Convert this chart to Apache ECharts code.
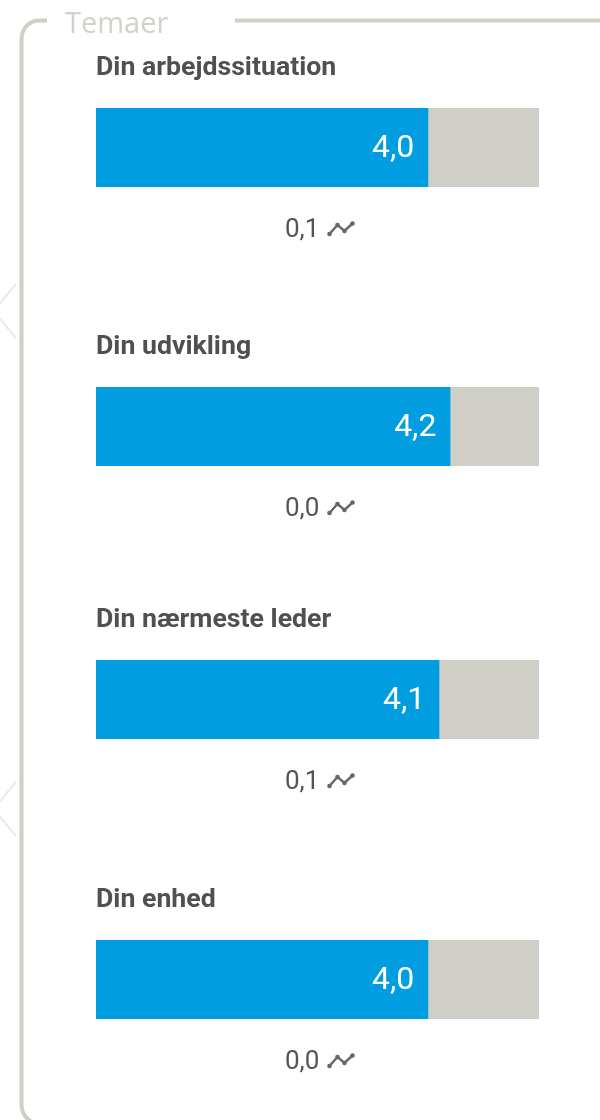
<!DOCTYPE html>
<html>
<head>
<meta charset="utf-8">
<style>
  html, body { margin: 0; padding: 0; background: #fff; }
  #chart { width: 600px; height: 1120px; }
</style>
<script src="https://cdn.jsdelivr.net/npm/echarts@6/dist/echarts.min.js"></script>
</head>
<body>
<div id="chart"></div>
<script>
var panelTitle = 'Temaer';
var themes = ['Din arbejdssituation', 'Din udvikling', 'Din nærmeste leder', 'Din enhed'];
var scores = [4.0, 4.2, 4.1, 4.0];
var changes = ['0,1', '0,0', '0,1', '0,0'];
var scaleMin = 1;
var scaleMax = 5;

var barTops = [108, 387, 660, 940];
var barHeight = 79;
var barLeft = 96;
var barWidth = 443;
var frameColor = '#cfcfc5';

var chart = echarts.init(document.getElementById('chart'), null, { renderer: 'canvas' });

var titles = [], grids = [], xAxes = [], yAxes = [], series = [];

function frameStyle() {
    return { stroke: frameColor, lineWidth: 4, fill: 'none' };
}

var graphics = [
    // ramme om panelet
    { type: 'line', shape: { x1: 235, y1: 20.5, x2: 600, y2: 20.5 }, style: frameStyle() },
    { type: 'line', shape: { x1: 40, y1: 20.5, x2: 47, y2: 20.5 }, style: frameStyle() },
    { type: 'line', shape: { x1: 21.5, y1: 40, x2: 21.5, y2: 1105 }, style: frameStyle() },
    { type: 'bezierCurve', shape: { x1: 21.5, y1: 40, cpx1: 21.5, cpy1: 27, x2: 40, y2: 20.5, cpx2: 30, cpy2: 20.5 }, style: frameStyle() },
    { type: 'bezierCurve', shape: { x1: 21.5, y1: 1105, cpx1: 21.5, cpy1: 1115, x2: 40, y2: 1124, cpx2: 30, cpy2: 1124 }, style: frameStyle() }
];

// svage pile ude i venstre side
[284, 782].forEach(function (y) {
    graphics.push({
        type: 'polyline',
        shape: { points: [[16, y], [-4, y + 24]] },
        style: { stroke: '#e9e9e5', lineWidth: 2, fill: 'none' }
    });
    graphics.push({
        type: 'polyline',
        shape: { points: [[-4, y + 30], [16, y + 54]] },
        style: { stroke: '#e9e9e5', lineWidth: 2, fill: 'none' }
    });
});

titles.push({
    text: panelTitle,
    left: 65,
    top: 10,
    padding: 0,
    textStyle: { fontFamily: 'Open Sans', fontWeight: 'normal', fontSize: 29, color: '#d2d2c8' }
});

themes.forEach(function (name, i) {
    var top = barTops[i];
    titles.push({
        text: name,
        left: barLeft,
        top: top - 53,
        padding: 0,
        textStyle: { fontFamily: 'Roboto', fontWeight: 'bold', fontSize: 26.7, color: '#505050' }
    });
    titles.push({
        text: changes[i],
        left: 285,
        top: top + 109,
        padding: 0,
        textStyle: { fontFamily: 'Roboto', fontWeight: 'normal', fontSize: 26, color: '#555555' }
    });
    grids.push({ left: barLeft, top: top, width: barWidth, height: barHeight });
    xAxes.push({ type: 'value', gridIndex: i, min: scaleMin, max: scaleMax, show: false });
    yAxes.push({ type: 'category', gridIndex: i, data: [name], show: false });
    series.push({
        type: 'bar',
        xAxisIndex: i,
        yAxisIndex: i,
        data: [scores[i]],
        barWidth: barHeight,
        showBackground: true,
        backgroundStyle: { color: '#cfcfc7' },
        itemStyle: { color: '#009ee0' },
        silent: true,
        label: {
            show: true,
            position: 'insideRight',
            distance: 14,
            offset: [0, 1],
            fontFamily: 'Roboto',
            fontSize: 32,
            color: '#ffffff',
            formatter: function (p) { return p.value.toFixed(1).replace('.', ','); }
        }
    });

    // lille trend-ikon ved siden af ændringen
    var pts = [[329.5, top + 126], [337.5, top + 117], [344.5, top + 123], [352.5, top + 115.5]];
    graphics.push({
        type: 'polyline',
        shape: { points: pts },
        style: { stroke: '#666666', lineWidth: 2.4, fill: 'none' }
    });
    pts.forEach(function (p) {
        graphics.push({
            type: 'circle',
            shape: { cx: p[0], cy: p[1], r: 2.3 },
            style: { fill: '#666666' }
        });
    });
});

chart.setOption({
    animation: false,
    backgroundColor: '#ffffff',
    title: titles,
    grid: grids,
    xAxis: xAxes,
    yAxis: yAxes,
    series: series,
    graphic: graphics
});
</script>
</body>
</html>
